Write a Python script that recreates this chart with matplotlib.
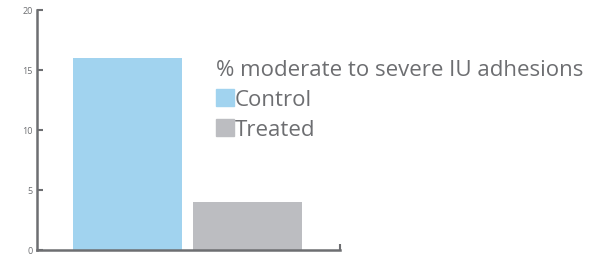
import numpy as np
import matplotlib.pyplot as plt
from matplotlib.patches import Patch

groups = ['Control', 'Treated']
values = [16, 4]
colors = ['#a1d3ef', '#bcbdc1']
legend_title = '% moderate to severe IU adhesions'
yticks = [0, 5, 10, 15, 20]

axis_col = '#6d6e71'
plt.rcParams['font.family'] = ['Open Sans', 'DejaVu Sans']

fig = plt.figure(figsize=(5.97, 2.6), dpi=100)
ax = fig.add_axes([37 / 597, 10 / 260, 303 / 597, 240 / 260])

x = np.arange(len(groups))
ax.bar(x, values, width=0.91, color=colors)

ax.set_ylim(0, 20)
ax.set_xlim(-0.754, 1.771)
ax.set_yticks(yticks)
ax.tick_params(axis='y', direction='in', length=4.5, width=1.5, color=axis_col,
               labelsize=6.5, labelcolor=axis_col, pad=3)
# small up tick at the right end of the baseline
ax.set_xticks([1.771])
ax.set_xticklabels([])
ax.tick_params(axis='x', direction='in', length=4.5, width=1.5, color=axis_col)

for s in ['top', 'right']:
    ax.spines[s].set_visible(False)
for s in ['left', 'bottom']:
    ax.spines[s].set_color(axis_col)
    ax.spines[s].set_linewidth(1.8)

handles = [Patch(color=c, label=g) for g, c in zip(groups, colors)]
leg = ax.legend(handles=handles, title=legend_title, loc='upper left',
                bbox_to_anchor=(179 / 303, 190 / 240), frameon=False,
                fontsize=16, title_fontsize=16, alignment='left',
                handlelength=0.8, handleheight=0.8, handletextpad=0.05,
                borderpad=0, borderaxespad=0, labelspacing=0.4)
leg._legend_box.sep = 6
leg.get_title().set_color(axis_col)
for t in leg.get_texts():
    t.set_color(axis_col)

fig.savefig('out.png', dpi=100)
